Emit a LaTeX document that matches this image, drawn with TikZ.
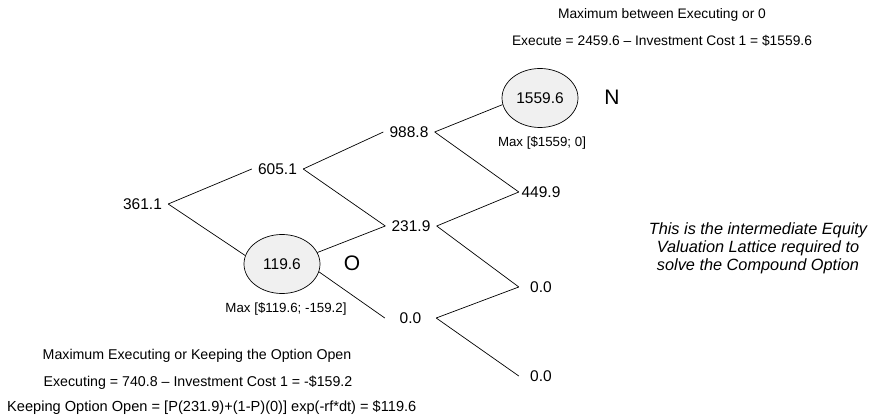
\documentclass[tikz,border=0pt]{standalone}
\usepackage{fontspec}
\setmainfont{Liberation Sans}
\usetikzlibrary{shapes.geometric}
\begin{document}
\begin{tikzpicture}[x=1pt,y=-1pt,
  num/.style={inner sep=0pt, minimum width=51pt, minimum height=16pt, font=\fontsize{15.5}{18}\selectfont},
  numr/.style={num, minimum width=44pt},
  ell/.style={ellipse, draw, line width=0.7pt, fill=black!6, minimum width=76pt, minimum height=59pt, inner sep=0pt, font=\fontsize{15.5}{18}\selectfont},
  note/.style={font=\fontsize{13.3}{16}\selectfont, inner sep=0pt},
  tnote/.style={font=\fontsize{13.8}{16}\selectfont, inner sep=0pt},
  bnote/.style={font=\fontsize{14.2}{16}\selectfont, inner sep=0pt},
  big/.style={font=\fontsize{21}{24}\selectfont, inner sep=0pt},
  link/.style={draw, line width=0.7pt}]
\useasboundingbox (0,0) rectangle (876,419);
% lattice nodes
\node[num] (n361) at (142.5,204) {361.1};
\node[num] (n605) at (277.5,169) {605.1};
\node[num] (n988) at (409,132) {988.8};
\node[num] (n231) at (411,226) {231.9};
\node[num] (n00m) at (410.5,318) {0.0};
\node[numr] (n449) at (541,192) {449.9};
\node[numr] (n00a) at (541,287) {0.0};
\node[numr] (n00b) at (541,376) {0.0};
\node[ell] (e1559) at (540,98) {1559.6};
\node[ell] (e119) at (282,264) {119.6};
% labels
\node[big] (lN) at (612,97) {N};
\node[big] (lO) at (352,263) {O};
\node[note] (m1) at (542,143) {Max [\$1559; 0]};
\node[note] (m2) at (286,309) {Max [\$119.6; -159.2]};
\node[tnote] (t1) at (662,15) {Maximum between Executing or 0};
\node[tnote] (t2) at (662,41) {Execute = 2459.6 – Investment Cost 1 = \$1559.6};
\node[bnote] (b1) at (197,356) {Maximum Executing or Keeping the Option Open};
\node[bnote] (b2) at (198,383) {Executing = 740.8 – Investment Cost 1 = -\$159.2};
\node[bnote, font=\fontsize{14.6}{17}\selectfont, anchor=west] (b3) at (7,408) {Keeping Option Open = [P(231.9)+(1-P)(0)] exp(-rf*dt) = \$119.6};
\node[inner sep=0pt, align=center, font=\fontsize{16.3}{18}\selectfont\itshape] (it) at (758,248)
  {This is the intermediate Equity\\Valuation Lattice required to\\solve the Compound Option};
% connectors
\draw[link] (n361.east) -- (n605.west);
\draw[link] (n361.east) -- (e119.167);
\draw[link] (n605.east) -- (n988.west);
\draw[link] (n605.east) -- (n231.west);
\draw[link] (n988.east) -- (e1559.190);
\draw[link] (n988.east) -- (n449.west);
\draw[link] (e119.18) -- (n231.west);
\draw[link] (e119.348) -- (n00m.west);
\draw[link] (n231.east) -- (n449.west);
\draw[link] (n231.east) -- (n00a.west);
\draw[link] (n00m.east) -- (n00a.west);
\draw[link] (n00m.east) -- (n00b.west);
\end{tikzpicture}
\end{document}
